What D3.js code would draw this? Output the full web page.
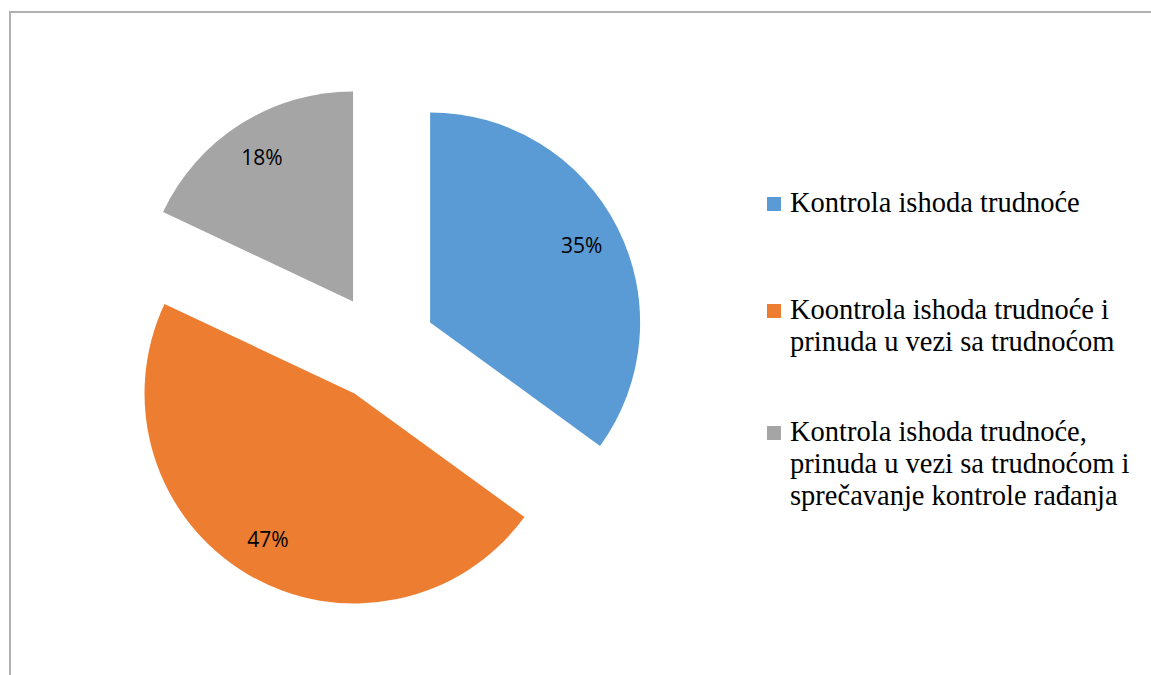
<!DOCTYPE html>
<html>
<head>
<meta charset="utf-8">
<script src="https://cdn.jsdelivr.net/npm/d3@7"></script>
<style>
  body { margin: 0; background: #fff; }
  .legend-text { font-family: 'Liberation Serif', Tinos, 'Times New Roman', 'DejaVu Serif', serif; }
</style>
</head>
<body>
<div id="chart"></div>
<script>
const categories = [
  ['Kontrola ishoda trudnoće'],
  ['Koontrola ishoda trudnoće i', 'prinuda u vezi sa trudnoćom'],
  ['Kontrola ishoda trudnoće,', 'prinuda u vezi sa trudnoćom i', 'sprečavanje kontrole rađanja']
];
const values = [35, 47, 18];
const colors = ['#5B9BD5', '#ED7D31', '#A5A5A5'];

const width = 1151;
const height = 675;
const center = { x: 382, y: 347 };
const radius = 210;
const explode = 54; // distance each slice is pulled out from the centre

const svg = d3.select('#chart').append('svg')
  .attr('width', width)
  .attr('height', height);

// chart area frame (runs off the right and bottom edge)
svg.append('rect')
  .attr('x', 10)
  .attr('y', 12)
  .attr('width', width + 20)
  .attr('height', height + 20)
  .attr('fill', 'none')
  .attr('stroke', '#b0b0b0')
  .attr('stroke-width', 2);

const pie = d3.pie().sort(null).value(d => d);
const arcs = pie(values);
const arc = d3.arc().innerRadius(0).outerRadius(radius);

const g = svg.append('g')
  .attr('transform', `translate(${center.x}, ${center.y})`);

const slices = g.selectAll('g.slice')
  .data(arcs)
  .enter().append('g')
  .attr('class', 'slice')
  .attr('transform', d => {
    const mid = (d.startAngle + d.endAngle) / 2;
    return `translate(${explode * Math.sin(mid)}, ${-explode * Math.cos(mid)})`;
  });

slices.append('path')
  .attr('d', arc)
  .attr('fill', (d, i) => colors[i]);

// percentage labels inside each slice
slices.append('text')
  .attr('x', d => 0.81 * radius * Math.sin((d.startAngle + d.endAngle) / 2))
  .attr('y', d => -0.81 * radius * Math.cos((d.startAngle + d.endAngle) / 2))
  .attr('dy', '0.35em')
  .style('text-anchor', 'middle')
  .style('font-family', '"Open Sans", "Liberation Sans", Arial, sans-serif')
  .style('font-size', '21px')
  .style('fill', '#000')
  .text(d => d.value + '%');

// legend
const legendTop = [212, 319, 441];
const legend = svg.append('g');
categories.forEach((lines, i) => {
  legend.append('rect')
    .attr('x', 767)
    .attr('y', legendTop[i] - 15)
    .attr('width', 14)
    .attr('height', 14)
    .attr('fill', colors[i]);
  const t = legend.append('text')
    .attr('class', 'legend-text')
    .attr('x', 790)
    .attr('y', legendTop[i])
    .style('font-size', '28.5px')
    .style('fill', '#000');
  lines.forEach((line, j) => {
    t.append('tspan')
      .attr('x', 790)
      .attr('dy', j === 0 ? 0 : 32)
      .text(line);
  });
});
</script>
</body>
</html>
